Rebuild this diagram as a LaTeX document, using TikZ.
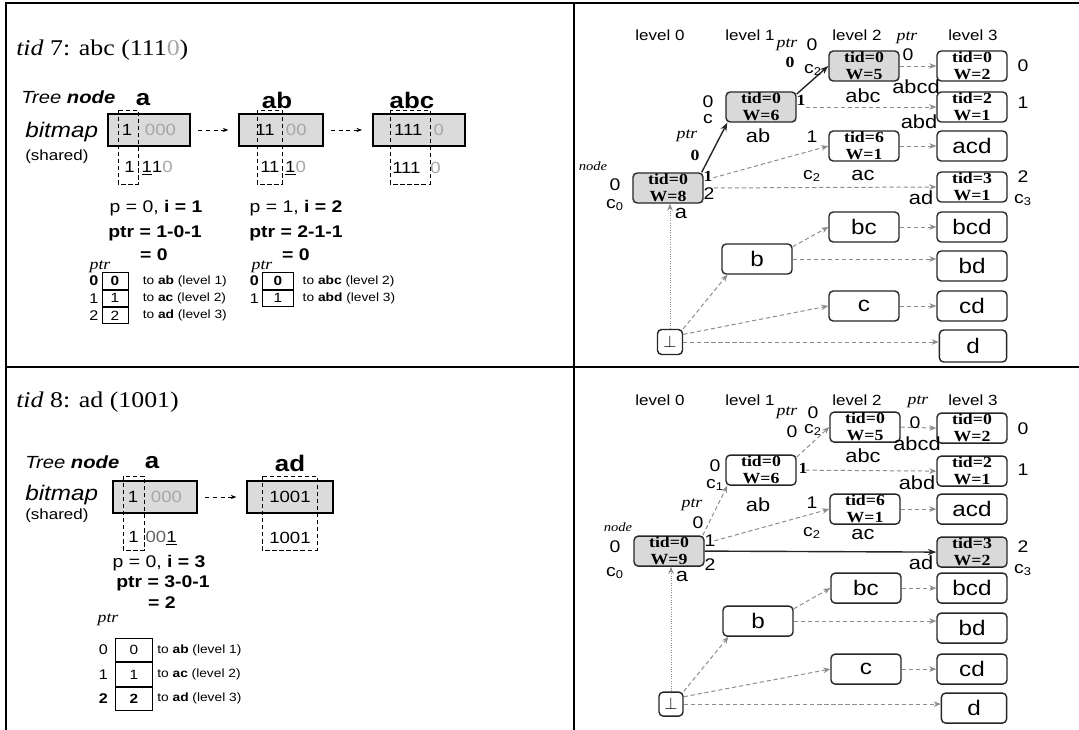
\documentclass[tikz,border=0pt]{standalone}
\usepackage{fontspec}
\setmainfont[FakeStretch=1.15]{Liberation Serif}
\setsansfont[FakeStretch=1.15]{Liberation Sans}
\usepackage{xcolor}
\usetikzlibrary{arrows.meta, positioning}
\tikzset{
    titletext/.style={anchor=west, inner sep=0pt, font=\rmfamily\fontsize{16}{18}\selectfont},
    sidelbl/.style={anchor=west, inner sep=0pt, font=\sffamily\itshape\fontsize{12.5}{14}\selectfont},
    nm/.style={inner sep=0pt, font=\sffamily\bfseries\fontsize{16}{16}\selectfont},
    bitbox/.style={draw, line width=1.4pt, fill=black!14, minimum height=0.8cm, inner sep=0pt, font=\sffamily\fontsize{11.5}{12}\selectfont},
    bitrow/.style={anchor=west, inner sep=0pt, font=\sffamily\fontsize{11.5}{12}\selectfont},
    colbox/.style={densely dashed, line width=0.5pt},
    bitlink/.style={dash pattern=on 3pt off 2.5pt, line width=0.6pt, -{Stealth[length=4pt, width=3pt]}, shorten <=0.18cm, shorten >=0.25cm},
    calcline/.style={inner sep=0pt, font=\sffamily\fontsize{12}{13}\selectfont},
    calcbold/.style={calcline, font=\sffamily\bfseries\fontsize{12}{13}\selectfont},
    cell/.style={draw, line width=0.6pt, inner sep=0pt, font=\sffamily\fontsize{9.5}{10}\selectfont},
    cellA/.style={cell, minimum width=0.65cm, minimum height=0.41cm},
    cellB/.style={cell, minimum width=0.78cm, minimum height=0.41cm},
    cellC/.style={cell, minimum width=0.92cm, minimum height=0.59cm},
    idx/.style={inner sep=0pt, font=\sffamily\fontsize{10}{10}\selectfont},
    note/.style={inner sep=0pt, font=\sffamily\fontsize{8.5}{9}\selectfont},
    ptrlbl/.style={inner sep=0pt, font=\rmfamily\itshape\fontsize{11}{11}\selectfont},
    lvl/.style={inner sep=0pt, font=\sffamily\fontsize{10.5}{11}\selectfont},
    tnode/.style={draw=black!85, line width=1pt, rounded corners=3pt, fill=white, minimum width=1.75cm, minimum height=0.75cm, inner sep=0pt, align=center, font=\rmfamily\bfseries\fontsize{11}{12}\selectfont},
    hot/.style={fill=black!15},
    iset/.style={font=\sffamily\fontsize{15}{15}\selectfont},
    tag/.style={inner sep=0pt, font=\sffamily\fontsize{12}{12}\selectfont},
    itag/.style={inner sep=0pt, font=\sffamily\fontsize{13.5}{13.5}\selectfont},
    rtag/.style={inner sep=0pt, font=\rmfamily\bfseries\fontsize{11}{11}\selectfont},
    link/.style={draw=black!45, densely dashed, line width=0.7pt, -{Stealth[length=5pt, width=4pt]}},
    hardlink/.style={draw=black!85, line width=1pt, -{Stealth[length=6pt, width=4.5pt]}}
}
\begin{document}
\begin{tikzpicture}[x=0.025cm, y=-0.025cm]
\useasboundingbox (0,0) rectangle (1079,730);
% frame
\draw[line width=1pt] (6,730) -- (6,3) -- (1079,3);
\draw[line width=1pt] (574,3) -- (574,730);
\draw[line width=1pt] (6,367) -- (1079,367);

% ---- tid 7: bitmaps ----
\node[titletext] (title7) at (16,50) {\textit{tid} 7: abc (111\textcolor{black!35}{0})};
\node[sidelbl] (tree7) at (21,97) {Tree \textbf{node}};
\node[sidelbl, font=\sffamily\itshape\fontsize{15}{16}\selectfont] (bitmap7) at (25,132) {bitmap};
\node[sidelbl, font=\sffamily\fontsize{10.5}{12}\selectfont] (shared7) at (25,157) {(shared)};
\node[nm] (na7) at (143,100) {a};
\node[nm] (nab7) at (277,100) {ab};
\node[nm] (nabc7) at (412,100) {abc};
\node[bitbox, minimum width=2.05cm] (bma7) at (149,130) {1\hspace{9pt}\textcolor{black!35}{000}};
\node[bitbox, minimum width=2.08cm] (bmab7) at (281,130) {11\hspace{8pt}\textcolor{black!35}{00}};
\node[bitbox, minimum width=2.3cm] (bmabc7) at (419,130) {111\hspace{8pt}\textcolor{black!35}{0}};
\draw[colbox] (118,110) rectangle (138,184);
\draw[colbox] (257,110) rectangle (282,184);
\draw[colbox] (390,110) rectangle (430,184);
\node[bitrow] (rowa7) at (124,168) {1\hspace{5pt}\underline{1}1\textcolor{black!35}{0}};
\node[bitrow] (rowab7) at (260,168) {11\hspace{4pt}\underline{1}\textcolor{black!35}{0}};
\node[bitrow] (rowabc7) at (392,168) {111\hspace{7pt}\textcolor{black!35}{0}};
\draw[bitlink] (bma7) -- (bmab7);
\draw[bitlink] (bmab7) -- (bmabc7);

\node[calcline] (pi7a) at (156,208) {p = 0, \textbf{i = 1}};
\node[calcbold] (ptr7a) at (155,233) {ptr = 1-0-1};
\node[calcbold] (eq7a) at (154,255) {= 0};
\node[ptrlbl] (ph7a) at (100,267) {ptr};
\node[cellA, font=\sffamily\bfseries\fontsize{9.5}{10}\selectfont] (c7a0) at (115,281) {0};
\node[cellA, below=0pt of c7a0] (c7a1) {1};
\node[cellA, below=0pt of c7a1] (c7a2) {2};
\node[idx, left=2pt of c7a0, font=\sffamily\bfseries\fontsize{10}{10}\selectfont] (i7a0) {0};
\node[idx, left=2pt of c7a1] (i7a1) {1};
\node[idx, left=2pt of c7a2] (i7a2) {2};
\node[note, anchor=west, right=10pt of c7a0] (n7a0) {to \textbf{ab} (level 1)};
\node[note, anchor=west, right=10pt of c7a1] (n7a1) {to \textbf{ac} (level 2)};
\node[note, anchor=west, right=10pt of c7a2] (n7a2) {to \textbf{ad} (level 3)};

\node[calcline] (pi7b) at (296,208) {p = 1, \textbf{i = 2}};
\node[calcbold] (ptr7b) at (296,233) {ptr = 2-1-1};
\node[calcbold] (eq7b) at (296,255) {= 0};
\node[ptrlbl] (ph7b) at (262,267) {ptr};
\node[cellB, font=\sffamily\bfseries\fontsize{9.5}{10}\selectfont] (c7b0) at (278,281) {0};
\node[cellB, below=0pt of c7b0] (c7b1) {1};
\node[idx, left=2pt of c7b0, font=\sffamily\bfseries\fontsize{10}{10}\selectfont] (i7b0) {0};
\node[idx, left=2pt of c7b1] (i7b1) {1};
\node[note, right=6pt of c7b0] (n7b0) {to \textbf{abc} (level 2)};
\node[note, right=6pt of c7b1] (n7b1) {to \textbf{abd} (level 3)};

% ---- tid 7: tree ----
\node[lvl] (lv07) at (660,35) {level 0};
\node[lvl] (lv17) at (750,35) {level 1};
\node[lvl] (lv27) at (857,35) {level 2};
\node[lvl] (lv37) at (973,35) {level 3};
\node[tnode, hot] (abc7) at (864,66) {tid=0\\W=5};
\node[tnode] (abcd7) at (972,66) {tid=0\\W=2};
\node[tnode, hot] (ab7) at (761,107) {tid=0\\W=6};
\node[tnode] (abd7) at (972,107) {tid=2\\W=1};
\node[tnode] (ac7) at (864,146) {tid=6\\W=1};
\node[tnode, iset] (acd7) at (972,146) {acd};
\node[tnode, hot] (a7) at (668,188) {tid=0\\W=8};
\node[tnode] (ad7) at (972,187) {tid=3\\W=1};
\node[tnode, iset] (bc7) at (864,227) {bc};
\node[tnode, iset] (bcd7) at (972,227) {bcd};
\node[tnode, iset] (b7) at (757,259) {b};
\node[tnode, iset] (bd7) at (972,266) {bd};
\node[tnode, iset] (c7) at (864,306) {c};
\node[tnode, iset] (cd7) at (972,306) {cd};
\node[tnode, minimum width=0.625cm, minimum height=0.625cm, font=\fontsize{13}{13}\selectfont] (bot7) at (670,342) {$\perp$};
\node[tnode, iset, minimum width=1.68cm, minimum height=0.8cm] (d7) at (973,346) {d};

\draw[hardlink] (a7.25) -- (ab7.205);
\draw[hardlink] (ab7.20) -- (abc7.west);
\draw[link, shorten <=0.25cm] (a7.12) -- (ac7.west);
\draw[link, shorten <=0.25cm] (a7.east) -- (ad7.west);
\draw[link, shorten <=0.22cm] (ab7.east) -- (abd7.west);
\draw[link] (abc7.east) -- (abcd7.west);
\draw[link] (ac7.east) -- (acd7.west);
\draw[link] (bc7.east) -- (bcd7.west);
\draw[link] (c7.east) -- (cd7.west);
\draw[link] (b7.19) -- (bc7.west);
\draw[link] (b7.east) -- (b7.east -| bd7.west);
\draw[link, densely dotted] (bot7.north) -- (bot7.north |- a7.south);
\draw[link] (bot7.north east) -- (b7.208);
\draw[link] (bot7.30) -- (c7.west);
\draw[link] (bot7.east) -- (bot7.east -| d7.west);

\node[itag] (l7abc) at (863,96) {abc};
\node[itag] (l7ab) at (758,136) {ab};
\node[itag] (l7ac) at (863,175) {ac};
\node[itag] (l7a) at (681,213) {a};
\node[itag] (l7abcd) at (916,87) {abcd};
\node[itag] (l7abd) at (919,122) {abd};
\node[itag] (l7ad) at (921,198) {ad};
\node[tag] (r7x0) at (1023,66) {0};
\node[tag] (r7x1) at (1023,103) {1};
\node[tag] (r7x2) at (1023,177) {2};
\node[tag] (r7c3) at (1023,200) {c\textsubscript{3}};
\node[ptrlbl] (p7abc) at (787,45) {ptr};
\node[tag] (q7abc) at (812,45) {0};
\node[rtag] (k7abc) at (790,62) {0};
\node[tag] (s7abc) at (813,70) {c\textsubscript{2}};
\node[tag] (q7ab) at (708,102) {0};
\node[tag] (s7ab) at (708,119) {c};
\node[ptrlbl] (p7a) at (687,136) {ptr};
\node[rtag] (k7a) at (695,155) {0};
\node[ptrlbl, font=\rmfamily\itshape\fontsize{9}{9}\selectfont] (nd7) at (593,166) {node};
\node[tag] (q7a) at (615,185) {0};
\node[tag] (s7a) at (615,205) {c\textsubscript{0}};
\node[rtag] (e7ab) at (801,100) {1};
\node[rtag] (e7a1) at (708,176) {1};
\node[tag] (e7a2) at (709,194) {2};
\node[tag] (q7ac) at (812,137) {1};
\node[tag] (s7ac) at (812,176) {c\textsubscript{2}};
\node[ptrlbl] (p7abcd) at (907,38) {ptr};
\node[tag] (q7abcd) at (908,55) {0};

% ---- tid 8: bitmaps ----
\node[titletext] (title8) at (16,402) {\textit{tid} 8: ad (1001)};
\node[sidelbl] (tree8) at (25,462) {Tree \textbf{node}};
\node[sidelbl, font=\sffamily\itshape\fontsize{15}{16}\selectfont] (bitmap8) at (25,495) {bitmap};
\node[sidelbl, font=\sffamily\fontsize{10.5}{12}\selectfont] (shared8) at (25,516) {(shared)};
\node[nm] (na8) at (152,463) {a};
\node[nm] (nad8) at (290,463) {ad};
\node[bitbox, minimum width=2.1cm] (bma8) at (155,497) {1\hspace{9pt}\textcolor{black!35}{000}};
\node[bitbox, minimum width=2.13cm] (bmad8) at (290,497) {1001};
\draw[colbox] (123,476) rectangle (144,550);
\draw[colbox] (262,476) rectangle (317,550);
\node[bitrow] (rowa8) at (128,538) {1\hspace{5pt}\textcolor{black!60}{00}\underline{1}};
\node[bitrow, anchor=center] (rowad8) at (290,538) {1001};
\draw[bitlink] (bma8) -- (bmad8);

\node[calcline] (pi8) at (159,563) {p = 0, \textbf{i = 3}};
\node[calcbold] (ptr8) at (163,583) {ptr = 3-0-1};
\node[calcbold] (eq8) at (162,603) {= 2};
\node[ptrlbl] (ph8) at (108,620) {ptr};
\node[cellC] (c80) at (134,650) {0};
\node[cellC, below=0pt of c80] (c81) {1};
\node[cellC, below=0pt of c81, font=\sffamily\bfseries\fontsize{9.5}{10}\selectfont] (c82) {2};
\node[idx, left=5pt of c80] (i80) {0};
\node[idx, left=5pt of c81] (i81) {1};
\node[idx, left=5pt of c82, font=\sffamily\bfseries\fontsize{10}{10}\selectfont] (i82) {2};
\node[note, anchor=west, right=3pt of c80] (n80) {to \textbf{ab} (level 1)};
\node[note, anchor=west, right=3pt of c81] (n81) {to \textbf{ac} (level 2)};
\node[note, anchor=west, right=3pt of c82] (n82) {to \textbf{ad} (level 3)};

% ---- tid 8: tree ----
\begin{scope}[yshift=-9.05cm]
\node[lvl] (lv08) at (660,38) {level 0};
\node[lvl] (lv18) at (750,38) {level 1};
\node[lvl] (lv28) at (857,38) {level 2};
\node[lvl] (lv38) at (973,38) {level 3};
\node[tnode] (abc8) at (865,65) {tid=0\\W=5};
\node[tnode] (abcd8) at (972,66) {tid=0\\W=2};
\node[tnode] (ab8) at (761,108) {tid=0\\W=6};
\node[tnode] (abd8) at (972,109) {tid=2\\W=1};
\node[tnode] (ac8) at (865,147) {tid=6\\W=1};
\node[tnode, iset] (acd8) at (972,147) {acd};
\node[tnode, hot] (a8) at (669,189) {tid=0\\W=9};
\node[tnode, hot] (ad8) at (972,190) {tid=3\\W=2};
\node[tnode, iset] (bc8) at (866,226) {bc};
\node[tnode, iset] (bcd8) at (972,226) {bcd};
\node[tnode, iset] (b8) at (758,259) {b};
\node[tnode, iset] (bd8) at (972,266) {bd};
\node[tnode, iset] (c8) at (866,307) {c};
\node[tnode, iset] (cd8) at (972,307) {cd};
\node[tnode, minimum width=0.6cm, minimum height=0.6cm, font=\fontsize{13}{13}\selectfont] (bot8) at (671,342) {$\perp$};
\node[tnode, iset, minimum width=1.63cm, minimum height=0.75cm] (d8) at (974,346) {d};

\draw[link] (a8.25) -- (ab8.205);
\draw[link] (ab8.20) -- (abc8.west);
\draw[hardlink] (a8.east) -- (ad8.west);
\draw[link, shorten <=0.25cm] (a8.12) -- (ac8.west);
\draw[link, shorten <=0.22cm] (ab8.east) -- (abd8.west);
\draw[link] (abc8.east) -- (abcd8.west);
\draw[link] (ac8.east) -- (acd8.west);
\draw[link] (bc8.east) -- (bcd8.west);
\draw[link] (c8.east) -- (cd8.west);
\draw[link] (b8.19) -- (bc8.west);
\draw[link] (b8.east) -- (b8.east -| bd8.west);
\draw[link, densely dotted] (bot8.north) -- (bot8.north |- a8.south);
\draw[link] (bot8.north east) -- (b8.208);
\draw[link] (bot8.30) -- (c8.west);
\draw[link] (bot8.east) -- (bot8.east -| d8.west);

\node[itag] (l8abc) at (863,94) {abc};
\node[itag] (l8ab) at (758,143) {ab};
\node[itag] (l8ac) at (863,172) {ac};
\node[itag] (l8a) at (682,214) {a};
\node[itag] (l8abcd) at (917,82) {abcd};
\node[itag] (l8abd) at (917,121) {abd};
\node[itag] (l8ad) at (921,201) {ad};
\node[tag] (r8x0) at (1023,67) {0};
\node[tag] (r8x1) at (1023,108) {1};
\node[tag] (r8x2) at (1023,185) {2};
\node[tag] (r8c3) at (1023,208) {c\textsubscript{3}};
\node[ptrlbl] (p8abc) at (787,51) {ptr};
\node[tag] (q8abc) at (813,51) {0};
\node[tag] (k8abc) at (792,70) {0};
\node[tag] (s8abc) at (813,68) {c\textsubscript{2}};
\node[tag] (q8ab) at (715,104) {0};
\node[tag] (s8ab) at (715,123) {c\textsubscript{1}};
\node[ptrlbl] (p8a) at (692,143) {ptr};
\node[tag] (k8a) at (698,161) {0};
\node[ptrlbl, font=\rmfamily\itshape\fontsize{9}{9}\selectfont] (nd8) at (618,165) {node};
\node[tag] (q8a) at (615,185) {0};
\node[tag] (s8a) at (615,211) {c\textsubscript{0}};
\node[rtag] (e8ab) at (803,106) {1};
\node[tag] (e8a1) at (710,179) {1};
\node[tag] (e8a2) at (710,203) {2};
\node[tag] (q8ac) at (812,141) {1};
\node[tag] (s8ac) at (812,171) {c\textsubscript{2}};
\node[ptrlbl] (p8abcd) at (918,40) {ptr};
\node[tag] (q8abcd) at (915,61) {0};
\end{scope}
\end{tikzpicture}
\end{document}
